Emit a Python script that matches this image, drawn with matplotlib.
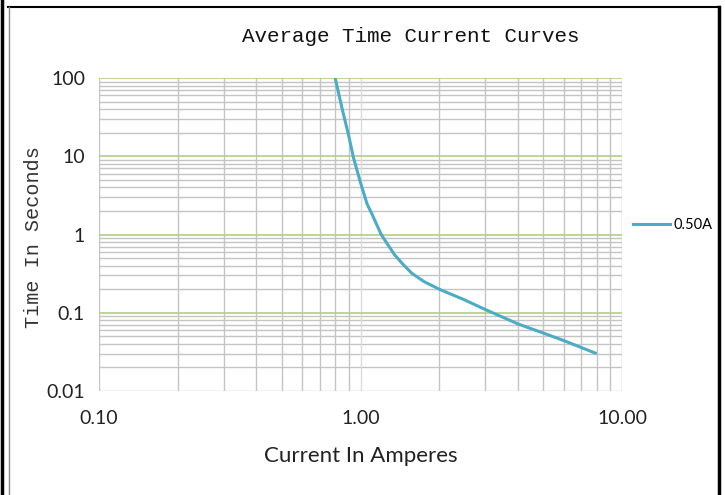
import matplotlib.pyplot as plt
from matplotlib.lines import Line2D
from matplotlib.ticker import FixedLocator, NullFormatter

# values (current in A, time in s)
current = [0.80, 0.85, 0.90, 0.94, 1.00, 1.06, 1.10, 1.20, 1.25, 1.35,
           1.45, 1.57, 1.75, 2.00, 2.50, 3.00, 4.00, 5.00, 6.00, 8.00]
time_s = [100, 41, 18.7, 9.6, 4.6, 2.45, 1.9, 1.0, 0.81, 0.55,
          0.42, 0.32, 0.25, 0.20, 0.146, 0.11, 0.072, 0.055, 0.044, 0.030]
series_name = "0.50A"

x_ticks = [0.1, 1.0, 10.0]
x_labels = ["0.10", "1.00", "10.00"]
y_ticks = [0.01, 0.1, 1, 10, 100]
y_labels = ["0.01", "0.1", "1", "10", "100"]

title = "Average Time Current Curves"
xlabel = "Current In Amperes"
ylabel = "Time In Seconds"

curve_color = "#4BACC6"
green = "#B3CE86"
grey = "#C4C4C4"
sans = ["Lato", "DejaVu Sans"]
mono = ["Liberation Mono", "DejaVu Sans Mono"]

fig = plt.figure(figsize=(7.25, 4.95), dpi=100)
ax = fig.add_axes([99 / 725, 1 - 391 / 495, 523 / 725, 313 / 495])
ax.set_xscale("log")
ax.set_yscale("log")
ax.set_xlim(0.1, 10)
ax.set_ylim(0.01, 100)

# minor grid lines (2..9 in each decade)
minor_x = [m * 10.0 ** d for d in (-1, 0) for m in range(2, 10)]
minor_y = [m * 10.0 ** d for d in (-2, -1, 0, 1) for m in range(2, 10)]
for v in minor_x:
    ax.axvline(v, color=grey, lw=1.0, zorder=1)
for v in minor_y:
    ax.axhline(v, color=grey, lw=1.0, zorder=1)
ax.axvline(1.0, color="#DCDCDC", lw=1.0, zorder=1)
ax.axvline(10.0, color=grey, lw=1.0, zorder=1)
for v in y_ticks[1:]:
    ax.axhline(v, color=green, lw=1.2, zorder=2)

ax.plot(current, time_s, color=curve_color, lw=2.2, zorder=3,
        solid_joinstyle="round", solid_capstyle="butt")

for s in ax.spines.values():
    s.set_visible(False)
ax.axvline(0.1, color=grey, lw=1.0, zorder=1)
ax.axhline(0.01, color=grey, lw=1.0, zorder=1)

ax.xaxis.set_major_locator(FixedLocator(x_ticks))
ax.yaxis.set_major_locator(FixedLocator(y_ticks))
ax.xaxis.set_minor_formatter(NullFormatter())
ax.yaxis.set_minor_formatter(NullFormatter())
ax.set_xticks(x_ticks, x_labels)
ax.set_yticks(y_ticks, y_labels)
ax.tick_params(which="both", length=0)
ax.tick_params(axis="x", pad=14, labelsize=14, labelcolor="#222222")
ax.tick_params(axis="y", pad=10, labelsize=14, labelcolor="#222222")
for lbl in ax.get_xticklabels() + ax.get_yticklabels():
    lbl.set_family(sans)

ax.set_xlabel(xlabel, family=sans, fontsize=16, labelpad=13, color="#222222")
fig.text(0.046, 0.521, ylabel, rotation=90, ha="center", va="center",
         family=mono, fontsize=14.5, color="#333333")
fig.text(411 / 725, 1 - 36 / 495, title, ha="center", va="center",
         family=mono, fontsize=15, color="#111111")

ax.legend(handles=[Line2D([], [], color=curve_color, lw=2.2)],
          labels=[series_name], loc="center left",
          bbox_to_anchor=(0.995, 0.53), frameon=False, handlelength=2.6,
          handletextpad=0.2, prop={"family": sans, "size": 10.5})

# outer frame of the chart
fig.add_artist(Line2D([1.5 / 725, 1.5 / 725], [0, 1], color="black", lw=2.5))
fig.add_artist(Line2D([719 / 725, 719 / 725], [0, 1 - 7 / 495], color="black", lw=2.5))
fig.add_artist(Line2D([8 / 725, 719 / 725], [1 - 7 / 495, 1 - 7 / 495], color="black", lw=1.5))
fig.add_artist(Line2D([9 / 725, 9 / 725], [0, 1 - 7 / 495], color="#888888", lw=1.0))

fig.savefig("out.png", dpi=100)
